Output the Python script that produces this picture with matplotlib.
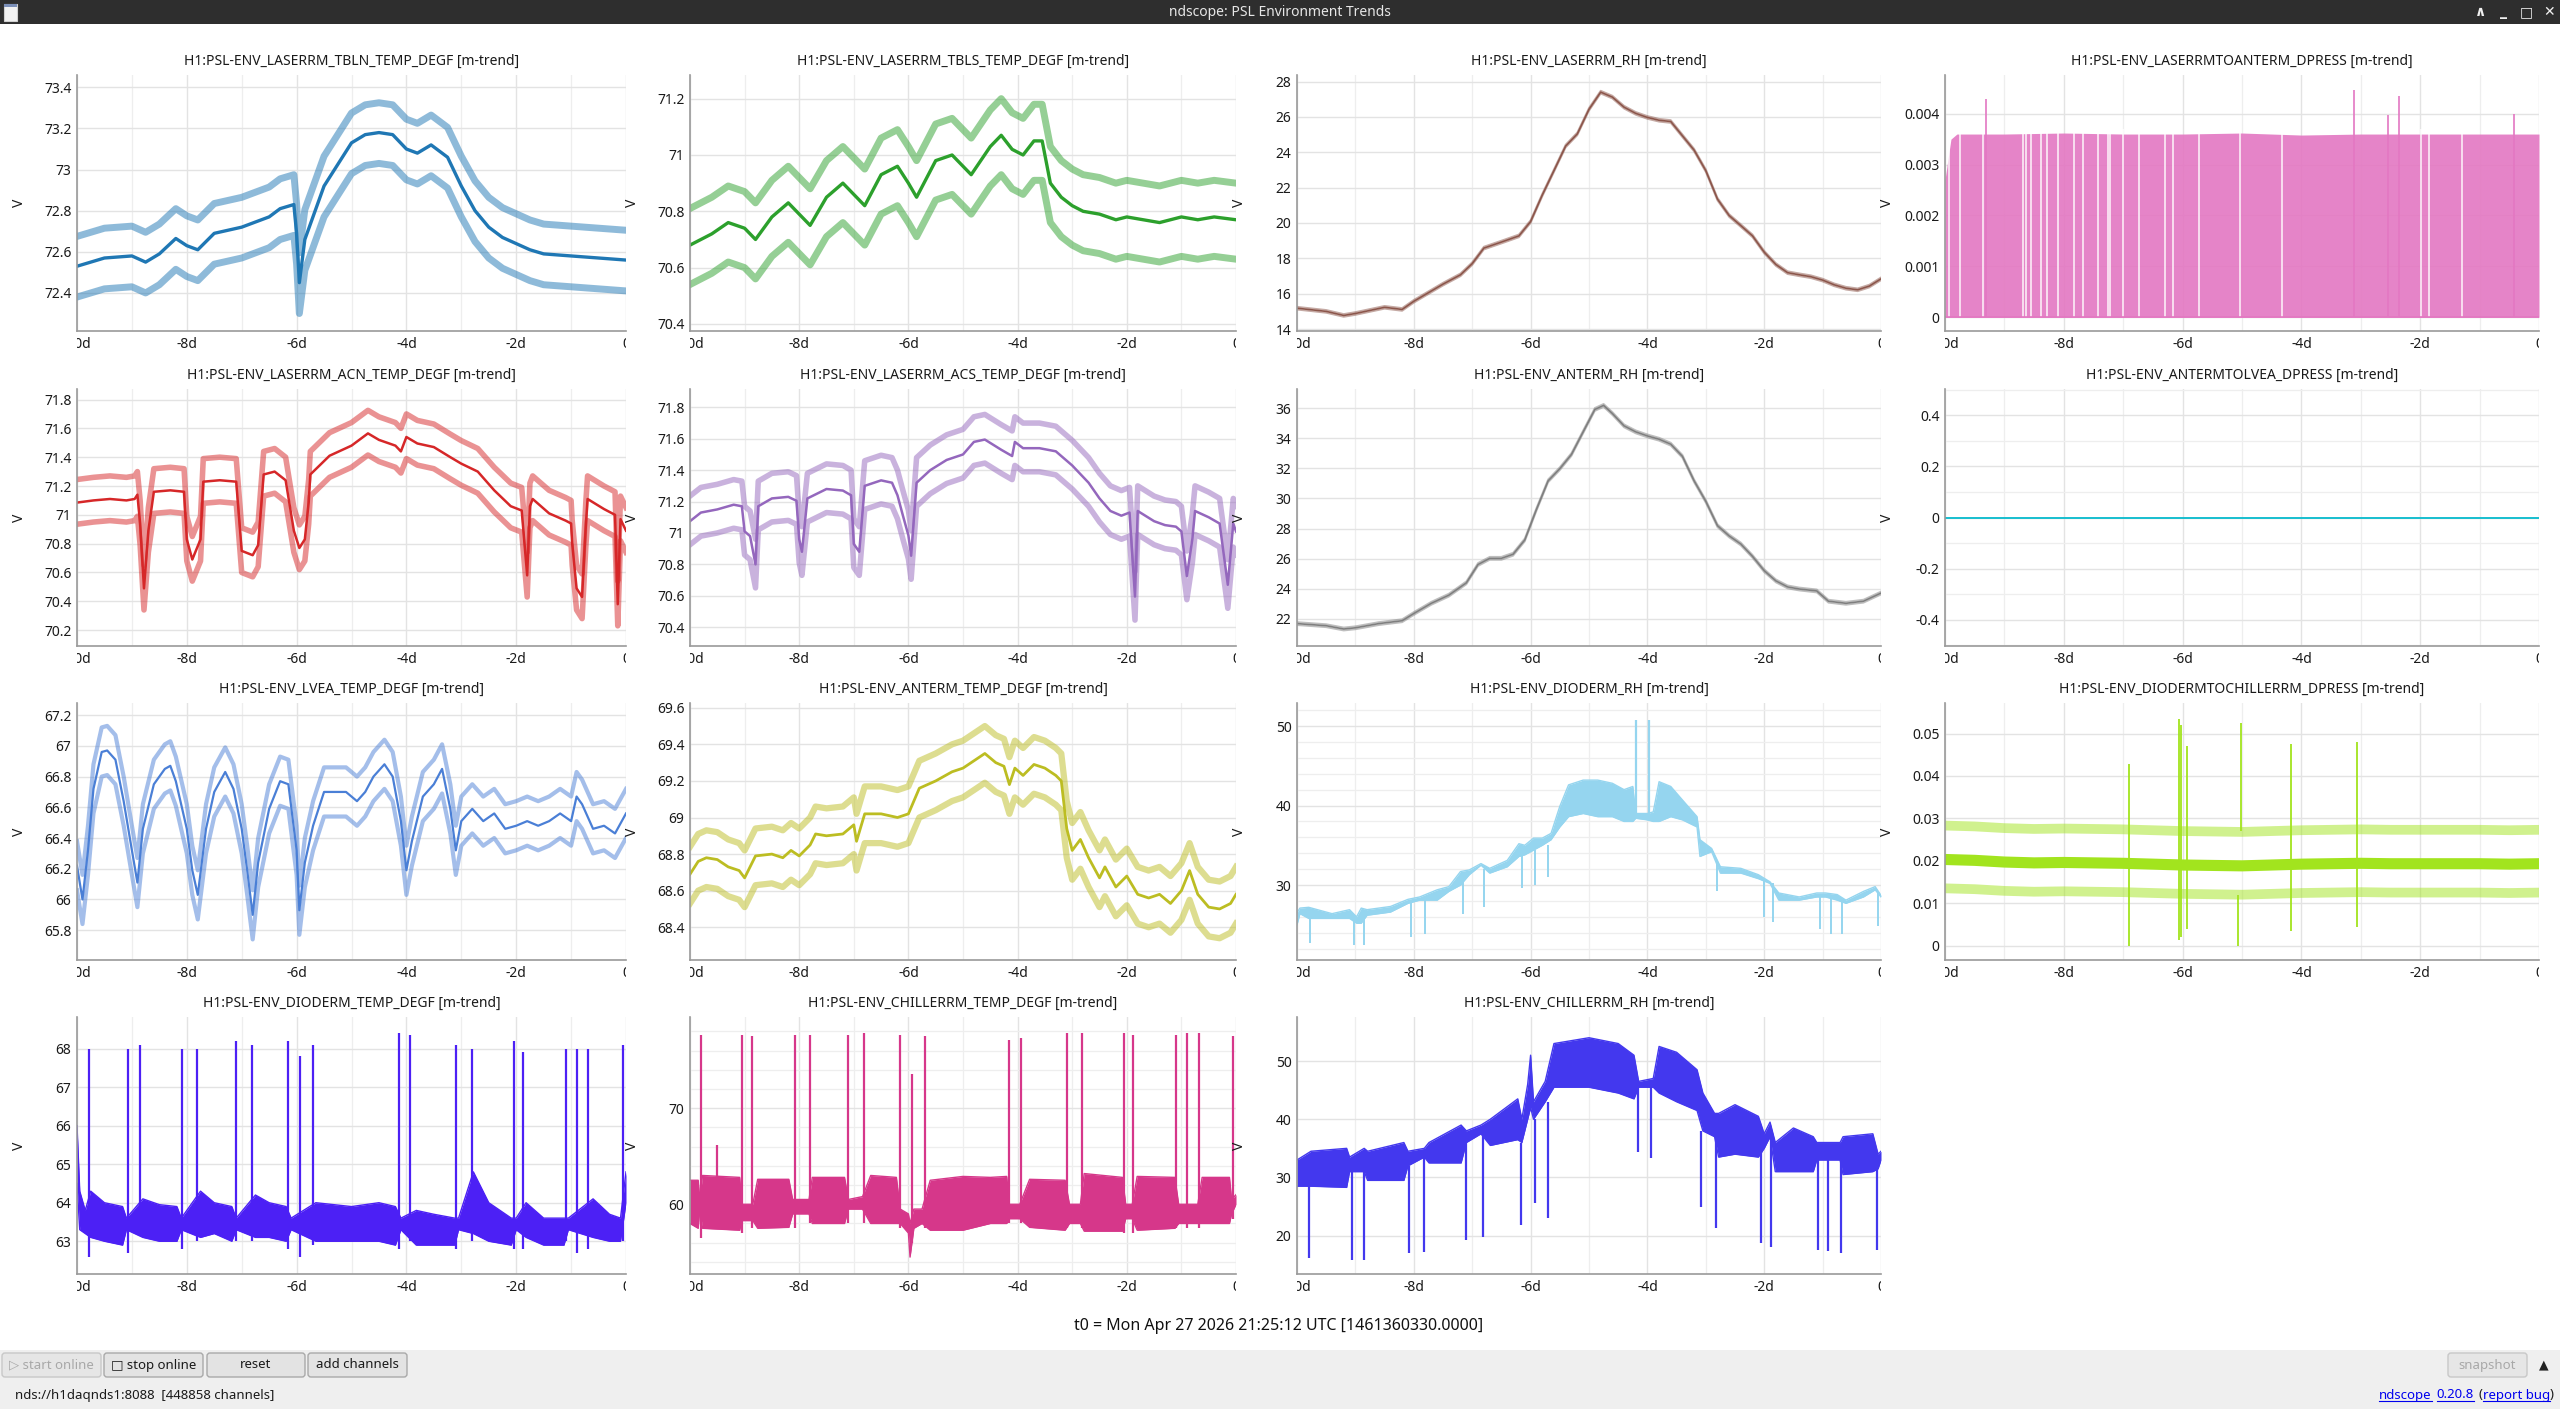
import numpy as np
import matplotlib.pyplot as plt
from matplotlib.patches import Rectangle, FancyBboxPatch
from matplotlib.lines import Line2D
from matplotlib.transforms import Bbox, TransformedBbox, IdentityTransform
from matplotlib.ticker import MultipleLocator, FuncFormatter

plt.rcParams['font.family'] = ['Noto Sans', 'DejaVu Sans']
plt.rcParams['axes.unicode_minus'] = False

W, H = 2560, 1409

# ---------------- data (days before t0) ----------------
x_ticks = [-10, -8, -6, -4, -2, 0]
x_labels = ['-10d', '-8d', '-6d', '-4d', '-2d', '0']

# LASERRM_TBLN_TEMP_DEGF
tbln_t = [-10, -9.5, -9, -8.75, -8.5, -8.2, -8, -7.8, -7.5, -7, -6.5, -6.3, -6.05, -6.0, -5.95,
          -5.85, -5.5, -5.0, -4.75, -4.5, -4.25, -4.0, -3.8, -3.55, -3.25, -3.0, -2.75, -2.5,
          -2.25, -2.0, -1.75, -1.5, -1.0, -0.5, 0]
tbln_mean = [72.53, 72.57, 72.58, 72.55, 72.59, 72.665, 72.63, 72.61, 72.69, 72.72, 72.77, 72.81,
             72.83, 72.69, 72.45, 72.66, 72.92, 73.13, 73.17, 73.18, 73.17, 73.10, 73.08, 73.12,
             73.06, 72.92, 72.80, 72.72, 72.67, 72.64, 72.61, 72.59, 72.58, 72.57, 72.56]
tbln_off = (-0.15, 0.145)

# LASERRM_TBLS_TEMP_DEGF
tbls_t = [-10, -9.6, -9.3, -9.0, -8.8, -8.5, -8.2, -8.0, -7.8, -7.5, -7.2, -7.0, -6.8, -6.5, -6.2,
          -6.0, -5.85, -5.5, -5.2, -5.0, -4.85, -4.5, -4.3, -4.1, -3.9, -3.7, -3.55, -3.4, -3.2,
          -3.0, -2.8, -2.5, -2.2, -2.0, -1.7, -1.4, -1.0, -0.7, -0.4, 0]
tbls_mean = [70.68, 70.72, 70.76, 70.74, 70.70, 70.78, 70.83, 70.79, 70.75, 70.85, 70.90, 70.86,
             70.82, 70.93, 70.96, 70.90, 70.85, 70.98, 71.00, 70.96, 70.93, 71.03, 71.07, 71.02,
             71.00, 71.05, 71.05, 70.90, 70.85, 70.82, 70.80, 70.79, 70.77, 70.78, 70.77, 70.76,
             70.78, 70.77, 70.78, 70.77]
tbls_off = (-0.14, 0.13)

# LASERRM_RH
lrh_t = [-10, -9.5, -9.2, -9.0, -8.5, -8.2, -8.0, -7.5, -7.2, -7.0, -6.8, -6.5, -6.2, -6.0, -5.8,
         -5.6, -5.4, -5.2, -5.0, -4.8, -4.6, -4.4, -4.2, -4.0, -3.8, -3.6, -3.4, -3.2, -3.0, -2.8,
         -2.6, -2.4, -2.2, -2.0, -1.8, -1.6, -1.4, -1.2, -1.0, -0.8, -0.6, -0.4, -0.2, 0]
lrh_mean = [15.18, 15.0, 14.77, 14.88, 15.23, 15.11, 15.57, 16.54, 17.07, 17.70, 18.58, 18.92,
            19.27, 20.08, 21.58, 22.96, 24.35, 25.04, 26.43, 27.40, 27.12, 26.55, 26.20, 25.97,
            25.81, 25.74, 24.93, 24.12, 22.96, 21.35, 20.42, 19.85, 19.27, 18.35, 17.65, 17.19,
            17.07, 16.96, 16.77, 16.50, 16.31, 16.22, 16.43, 16.84]
lrh_off = (-0.08, 0.08)

# LASERRMTOANTERM_DPRESS
dp1_t = [-10, -9.9, -9.8, -9, -8, -7, -6, -5, -4, -3, -2, -1, 0]
dp1_max = [0.0027, 0.0035, 0.0036, 0.0036, 0.00362, 0.0036, 0.0036, 0.00362, 0.00358, 0.0036,
           0.0036, 0.0036, 0.0036]
dp1_floor = 0.0
dp1_spike_t = [-9.31, -3.11, -2.54, -2.35, -0.42]
dp1_spike_v = [0.00429, 0.00446, 0.00397, 0.00435, 0.0040]
dp1_gap_t = [-9.93, -9.75, -9.36, -8.69, -8.64, -8.55, -8.38, -8.28, -8.09, -7.82, -7.67, -7.43,
             -7.26, -7.22, -7.01, -6.73, -6.29, -6.16, -5.72, -5.04, -4.32, -1.98, -1.85, -1.30]
dp1_gap_top = 0.0037

# LASERRM_ACN_TEMP_DEGF
acn_t = [-10, -9.7, -9.4, -9.1, -8.95, -8.9, -8.85, -8.78, -8.7, -8.6, -8.3, -8.05, -8.0, -7.9,
         -7.75, -7.7, -7.4, -7.1, -7.0, -6.8, -6.7, -6.6, -6.4, -6.2, -6.05, -5.95, -5.85, -5.78,
         -5.75, -5.4, -5.0, -4.7, -4.5, -4.2, -4.1, -4.0, -3.8, -3.5, -3.2, -3.0, -2.7, -2.4,
         -2.1, -1.9, -1.8, -1.75, -1.7, -1.4, -1.1, -1.0, -0.98, -0.9, -0.8, -0.73, -0.7, -0.4,
         -0.2, -0.15, -0.1, 0]
acn_mean = [71.085, 71.10, 71.11, 71.10, 71.11, 71.14, 70.94, 70.49, 70.89, 71.16, 71.17, 71.16,
            70.83, 70.69, 70.83, 71.23, 71.24, 71.23, 70.75, 70.72, 70.79, 71.28, 71.30, 71.24,
            70.89, 70.77, 70.83, 71.085, 71.28, 71.41, 71.48, 71.565, 71.52, 71.48, 71.44, 71.54,
            71.495, 71.47, 71.40, 71.355, 71.30, 71.17, 71.06, 71.03, 70.58, 71.06, 71.11, 71.01,
            70.96, 70.94, 70.80, 70.49, 70.43, 70.94, 71.11, 71.04, 71.0, 70.38, 70.97, 70.89]
acn_off = (-0.15, 0.16)

# LASERRM_ACS_TEMP_DEGF
acs_t = [-10, -9.8, -9.5, -9.2, -9.05, -9.0, -8.9, -8.8, -8.75, -8.5, -8.2, -8.05, -8.0, -7.95,
         -7.85, -7.5, -7.2, -7.05, -7.0, -6.9, -6.8, -6.5, -6.3, -6.2, -6.1, -6.0, -5.95, -5.85,
         -5.6, -5.3, -5.0, -4.8, -4.6, -4.3, -4.1, -4.05, -3.9, -3.6, -3.3, -3.0, -2.7, -2.5,
         -2.3, -2.1, -1.95, -1.85, -1.8, -1.5, -1.3, -1.1, -1.0, -0.9, -0.8, -0.75, -0.5, -0.3,
         -0.15, -0.05, 0]
acs_mean = [71.075, 71.13, 71.15, 71.18, 71.17, 71.01, 70.98, 70.80, 71.17, 71.22, 71.23, 71.205,
            70.96, 70.88, 71.22, 71.28, 71.27, 71.24, 70.93, 70.88, 71.30, 71.335, 71.32, 71.24,
            71.11, 70.985, 70.855, 71.32, 71.40, 71.465, 71.50, 71.58, 71.595, 71.53, 71.49,
            71.58, 71.54, 71.54, 71.52, 71.43, 71.32, 71.22, 71.14, 71.11, 71.13, 70.595, 71.14,
            71.075, 71.05, 71.04, 71.01, 70.725, 70.96, 71.14, 71.10, 71.06, 70.67, 71.06, 71.01]
acs_off = (-0.15, 0.16)

# ANTERM_RH
arh_t = [-10, -9.5, -9.2, -9.0, -8.6, -8.2, -8.0, -7.7, -7.4, -7.1, -6.9, -6.7, -6.5, -6.3, -6.1,
         -5.9, -5.7, -5.5, -5.3, -5.1, -4.9, -4.75, -4.6, -4.4, -4.2, -4.0, -3.8, -3.6, -3.4,
         -3.2, -3.0, -2.8, -2.6, -2.4, -2.2, -2.0, -1.8, -1.6, -1.4, -1.1, -0.9, -0.6, -0.3, 0]
arh_mean = [21.68, 21.54, 21.32, 21.40, 21.68, 21.87, 22.35, 23.03, 23.57, 24.39, 25.61, 26.02,
            26.02, 26.29, 27.24, 29.27, 31.17, 31.98, 32.93, 34.43, 35.92, 36.19, 35.65, 34.83,
            34.43, 34.16, 33.94, 33.61, 32.80, 31.17, 29.81, 28.19, 27.51, 26.97, 26.15, 25.20,
            24.52, 24.12, 23.98, 23.85, 23.17, 23.03, 23.17, 23.71]
arh_off = (-0.1, 0.1)

# ANTERMTOLVEA_DPRESS
alv_t = [-10, 0]
alv_v = [0.0, 0.0]

# LVEA_TEMP_DEGF
lvea_t = [-10, -9.9, -9.8, -9.7, -9.55, -9.45, -9.3, -9.15, -9.0, -8.9, -8.8, -8.6, -8.4, -8.3,
          -8.2, -8.0, -7.9, -7.8, -7.65, -7.5, -7.3, -7.15, -7.0, -6.9, -6.8, -6.7, -6.5, -6.3,
          -6.15, -6.0, -5.95, -5.85, -5.7, -5.5, -5.3, -5.1, -4.9, -4.75, -4.6, -4.4, -4.25,
          -4.1, -4.0, -3.9, -3.7, -3.5, -3.35, -3.2, -3.1, -3.0, -2.8, -2.6, -2.4, -2.2, -2.0,
          -1.8, -1.6, -1.4, -1.2, -1.0, -0.9, -0.8, -0.6, -0.4, -0.2, 0]
lvea_mean = [66.22, 66.0, 66.32, 66.72, 66.96, 66.97, 66.91, 66.64, 66.32, 66.11, 66.46, 66.75,
             66.85, 66.87, 66.77, 66.46, 66.19, 66.03, 66.46, 66.70, 66.83, 66.72, 66.46, 66.19,
             65.90, 66.24, 66.59, 66.77, 66.75, 66.32, 65.93, 66.24, 66.48, 66.70, 66.70, 66.70,
             66.64, 66.70, 66.80, 66.88, 66.80, 66.51, 66.19, 66.38, 66.67, 66.75, 66.85, 66.59,
             66.32, 66.51, 66.59, 66.51, 66.56, 66.46, 66.48, 66.51, 66.48, 66.51, 66.56, 66.51,
             66.67, 66.62, 66.46, 66.48, 66.43, 66.56]
lvea_off = (-0.16, 0.16)

# ANTERM_TEMP_DEGF
atmp_t = [-10, -9.85, -9.7, -9.5, -9.3, -9.1, -9.0, -8.9, -8.8, -8.5, -8.3, -8.15, -8.0, -7.8,
          -7.7, -7.5, -7.2, -7.0, -6.95, -6.8, -6.5, -6.2, -6.0, -5.9, -5.8, -5.5, -5.2, -5.0,
          -4.8, -4.6, -4.4, -4.25, -4.15, -4.05, -3.9, -3.7, -3.5, -3.3, -3.2, -3.1, -3.0, -2.85,
          -2.7, -2.5, -2.4, -2.2, -2.0, -1.8, -1.6, -1.4, -1.2, -1.0, -0.85, -0.7, -0.5, -0.3,
          -0.1, 0]
atmp_mean = [68.69, 68.76, 68.78, 68.77, 68.73, 68.71, 68.67, 68.73, 68.79, 68.80, 68.78, 68.82,
             68.79, 68.85, 68.91, 68.90, 68.91, 68.96, 68.87, 69.02, 69.02, 69.00, 69.02, 69.09,
             69.16, 69.20, 69.25, 69.27, 69.31, 69.35, 69.30, 69.28, 69.18, 69.27, 69.23, 69.29,
             69.27, 69.23, 69.20, 68.94, 68.82, 68.88, 68.78, 68.67, 68.73, 68.62, 68.68, 68.58,
             68.56, 68.58, 68.53, 68.60, 68.71, 68.58, 68.51, 68.50, 68.53, 68.58]
atmp_off = (-0.16, 0.15)

# DIODERM_RH (min / max band, plus short dips and spikes)
drh_t = [-10, -9.95, -9.8, -9.4, -9.1, -8.98, -8.9, -8.8, -8.4, -8.1, -7.9, -7.6, -7.4, -7.2,
         -7.05, -6.85, -6.7, -6.4, -6.2, -6.1, -5.95, -5.8, -5.65, -5.5, -5.35, -5.1, -4.85, -4.6,
         -4.4, -4.25, -4.2, -4.0, -3.9, -3.8, -3.6, -3.4, -3.15, -3.1, -2.9, -2.75, -2.4, -2.1,
         -1.9, -1.75, -1.4, -1.1, -0.95, -0.75, -0.6, -0.3, -0.1, 0]
drh_lo = [25.0, 26.4, 25.8, 25.8, 25.8, 25.2, 25.2, 26.2, 26.6, 27.7, 28.1, 28.1, 29.2, 30.0,
          31.3, 32.5, 31.5, 32.3, 33.6, 33.8, 34.4, 35.0, 35.7, 37.3, 38.6, 39.0, 38.6, 38.6,
          38.0, 38.0, 38.4, 38.2, 38.0, 38.0, 38.6, 38.2, 37.3, 33.6, 34.2, 31.5, 31.5, 30.8,
          30.2, 28.1, 28.1, 28.5, 28.5, 28.1, 27.7, 28.5, 29.4, 28.5]
drh_hi = [26.5, 27.1, 27.2, 26.4, 26.9, 26.0, 27.1, 26.9, 27.3, 28.2, 28.5, 29.4, 29.8, 31.7,
          31.9, 32.7, 32.1, 33.1, 35.2, 35.0, 35.9, 35.9, 36.5, 39.9, 42.6, 43.2, 43.2, 42.8,
          42.0, 42.4, 39.0, 39.0, 39.2, 43.0, 42.4, 40.7, 38.6, 35.7, 34.6, 32.3, 32.1, 31.3,
          30.4, 29.0, 28.5, 29.0, 29.0, 28.8, 28.1, 29.2, 29.8, 28.7]
drh_dip_t = [-9.77, -9.03, -8.85, -8.05, -7.8, -7.15, -6.8, -6.15, -5.93, -5.7, -2.8, -2.0,
             -1.85, -1.05, -0.85, -0.67, -0.05]
drh_dip_lo = [22.7, 22.5, 22.5, 23.5, 23.9, 26.4, 27.3, 29.6, 30.0, 31.0, 29.2, 26.0, 25.4, 24.5,
              23.9, 23.9, 24.8]
drh_dip_hi = [26.0, 26.0, 26.5, 27.7, 28.1, 30.5, 32.0, 33.6, 34.4, 35.0, 33.0, 30.8, 30.2, 28.5,
              28.5, 28.1, 29.0]
drh_spk_t = [-4.2, -3.98]
drh_spk_lo = [38.5, 38.5]
drh_spk_hi = [50.8, 50.8]

# DIODERMTOCHILLERRM_DPRESS
dpc_t = [-10, -9.5, -9.0, -8.5, -8.0, -7.5, -7.0, -6.5, -6.0, -5.5, -5.0, -4.5, -4.0, -3.5, -3.0,
         -2.5, -2.0, -1.5, -1.0, -0.5, 0]
dpc_mean = [0.0203, 0.0201, 0.0197, 0.0195, 0.0196, 0.0195, 0.0194, 0.0192, 0.0190, 0.0189,
            0.0188, 0.0190, 0.0192, 0.0193, 0.0194, 0.0193, 0.0193, 0.0193, 0.0193, 0.0192, 0.0193]
dpc_off = (-0.0068, 0.0080)
dpc_spk_t = [-6.91, -6.06, -6.02, -5.92, -5.06, -5.02, -4.17, -3.06]
dpc_spk_lo = [0.0, 0.0014, 0.002, 0.0038, 0.0, 0.027, 0.0034, 0.0043]
dpc_spk_hi = [0.0428, 0.0534, 0.052, 0.047, 0.012, 0.0524, 0.0476, 0.048]

# DIODERM_TEMP_DEGF
dtmp_t = [-10, -9.95, -9.85, -9.75, -9.5, -9.17, -9.1, -8.8, -8.5, -8.18, -8.1, -7.75, -7.5,
          -7.18, -7.1, -6.75, -6.5, -6.19, -6.1, -5.65, -5.0, -4.5, -4.2, -4.1, -3.82, -3.5,
          -3.12, -3.05, -2.78, -2.5, -2.09, -2.0, -1.82, -1.5, -1.13, -1.05, -0.6, -0.3, -0.1, 0]
dtmp_lo = [64.5, 63.3, 63.2, 63.1, 63.0, 62.9, 63.3, 63.1, 63.0, 63.0, 63.3, 63.1, 63.2, 63.0,
           63.3, 63.1, 63.1, 63.0, 63.3, 63.0, 63.0, 63.0, 62.9, 63.3, 62.9, 62.9, 62.9, 63.3,
           63.2, 63.0, 62.9, 63.3, 63.1, 62.9, 62.9, 63.3, 63.1, 63.0, 63.0, 64.0]
dtmp_hi = [66.0, 64.3, 63.8, 64.3, 64.0, 63.9, 63.6, 64.1, 63.95, 63.9, 63.6, 64.3, 64.0, 63.9,
           63.6, 64.2, 64.0, 63.9, 63.6, 64.0, 63.9, 64.0, 63.9, 63.6, 63.8, 63.7, 63.6, 63.6,
           64.8, 64.0, 63.6, 63.6, 64.0, 63.6, 63.6, 63.6, 64.1, 63.7, 63.6, 64.8]
dtmp_spk_t = [-9.79, -9.07, -8.86, -8.09, -7.82, -7.11, -6.81, -6.15, -5.93, -5.70, -4.14, -3.93,
              -3.09, -2.80, -2.04, -1.87, -1.09, -0.90, -0.69, -0.06]
dtmp_spk_lo = [62.6, 62.7, 63.2, 62.8, 63.0, 63.0, 63.0, 62.8, 62.6, 62.9, 62.8, 63.0, 62.8, 63.0,
               62.8, 62.8, 63.0, 62.7, 62.8, 63.0]
dtmp_spk_hi = [68.0, 68.0, 68.1, 68.0, 68.0, 68.2, 68.1, 68.2, 67.8, 68.1, 68.4, 68.35, 68.1, 68.0,
               68.2, 67.9, 68.0, 68.0, 68.0, 68.1]

# CHILLERRM_TEMP_DEGF
ctmp_t = [-10, -9.85, -9.82, -9.77, -9.09, -9.05, -8.85, -8.76, -8.19, -8.12, -7.82, -7.76, -7.17,
          -7.1, -6.84, -6.69, -6.22, -6.15, -6.0, -5.97, -5.9, -5.75, -5.6, -5.0, -4.5, -4.2,
          -4.15, -3.96, -3.78, -3.13, -3.05, -2.85, -2.78, -2.08, -2.02, -1.9, -1.81, -1.12,
          -1.05, -0.7, -0.62, -0.12, -0.08, 0]
ctmp_lo = [58.0, 57.5, 59.5, 57.5, 57.3, 58.3, 58.3, 57.5, 57.6, 59.0, 59.0, 58.0, 58.0, 59.5,
           59.5, 58.0, 58.0, 58.0, 57.0, 54.5, 57.5, 58.0, 57.3, 57.3, 58.0, 58.0, 58.5, 58.5,
           57.6, 57.3, 58.0, 58.0, 57.2, 57.2, 58.5, 58.5, 57.3, 57.5, 58.0, 58.0, 58.0, 58.0,
           59.0, 60.0]
ctmp_hi = [62.5, 62.5, 60.5, 63.0, 62.8, 60.0, 60.0, 62.6, 62.6, 60.5, 60.5, 62.8, 62.8, 60.5,
           60.8, 63.0, 62.8, 59.5, 59.0, 58.0, 59.5, 59.5, 62.5, 62.9, 62.8, 62.9, 60.0, 60.0,
           62.6, 62.5, 60.0, 60.0, 63.2, 62.8, 60.0, 60.0, 62.9, 62.8, 60.0, 60.0, 62.8, 62.8,
           60.5, 61.0]
ctmp_spk_t = [-9.80, -9.50, -9.05, -8.87, -8.08, -7.81, -7.11, -6.81, -6.16, -5.94, -5.70, -4.15,
              -3.94, -3.09, -2.82, -2.05, -1.88, -1.09, -0.89, -0.67, -0.05]
ctmp_spk_lo = [56.5, 60.0, 57.0, 57.5, 57.5, 58.0, 58.0, 58.0, 57.5, 56.0, 57.5, 58.0, 58.0, 57.5,
               57.5, 57.0, 57.0, 57.5, 57.5, 57.5, 58.5]
ctmp_spk_hi = [77.6, 66.2, 77.6, 77.5, 77.6, 77.6, 77.6, 77.8, 77.6, 73.6, 77.5, 77.1, 77.3, 77.8,
               77.8, 77.8, 77.6, 77.6, 77.8, 77.8, 77.5]

# CHILLERRM_RH
crh_t = [-10, -9.76, -9.15, -9.1, -8.85, -8.79, -8.17, -8.1, -7.82, -7.74, -7.19, -7.1, -6.85,
         -6.69, -6.22, -6.15, -6.05, -6.0, -5.95, -5.75, -5.6, -5.0, -4.5, -4.23, -4.15, -3.9,
         -3.8, -3.5, -3.15, -3.05, -2.85, -2.78, -2.5, -2.1, -2.0, -1.9, -1.81, -1.5, -1.16,
         -1.1, -0.7, -0.65, -0.14, -0.05, 0]
crh_lo = [28.5, 28.5, 28.3, 31.0, 31.0, 29.5, 29.5, 32.0, 33.5, 32.5, 32.5, 36.0, 37.5, 35.5, 36.5,
          36.0, 40.0, 42.0, 40.0, 43.0, 45.5, 45.5, 44.5, 43.5, 45.5, 45.5, 44.5, 43.0, 41.5,
          38.0, 37.0, 33.5, 34.0, 33.5, 35.0, 37.0, 31.0, 31.0, 31.0, 33.0, 33.0, 30.5, 31.0,
          31.5, 33.0]
crh_hi = [33.0, 34.5, 35.0, 33.5, 35.0, 34.5, 36.0, 34.5, 35.0, 36.0, 39.0, 38.0, 39.0, 40.0, 43.5,
          40.0, 46.0, 51.0, 43.0, 46.5, 53.0, 54.0, 53.0, 51.0, 46.5, 47.0, 52.5, 51.5, 48.5,
          44.5, 41.0, 41.0, 42.5, 40.5, 37.5, 39.5, 36.0, 38.5, 37.0, 36.0, 36.0, 37.0, 37.5,
          34.0, 34.5]
crh_dip_t = [-9.8, -9.05, -8.86, -8.08, -7.82, -7.11, -6.81, -6.16, -5.93, -5.70, -4.16, -3.93,
             -3.09, -2.82, -2.05, -1.88, -1.08, -0.90, -0.69, -0.07]
crh_dip_lo = [16.1, 15.8, 15.8, 17.0, 17.2, 19.3, 19.7, 21.8, 25.7, 23.1, 34.4, 33.3, 25.0, 21.3,
              18.7, 18.1, 17.5, 17.3, 17.0, 17.5]
crh_dip_hi = [30.0, 31.0, 31.0, 32.0, 33.5, 36.0, 37.5, 36.0, 40.0, 43.0, 45.5, 45.5, 38.0, 37.0,
              35.0, 37.0, 33.0, 33.0, 33.0, 31.5]

# ---------------- figure ----------------
fig = plt.figure(figsize=(W / 100, H / 100), dpi=100)
fig.patch.set_facecolor('white')

COLS = [(77, 626), (690, 1236), (1297, 1881), (1945, 2539)]
ROWS = [(75, 331), (389, 646), (703, 960), (1017, 1274)]
TXT = '#1a1a1a'
FS = 10


def make_ax(r, c, title, ylim, yticks, yminor=None):
    x0, x1 = COLS[c]
    y0, y1 = ROWS[r]
    ax = fig.add_axes([x0 / W, 1 - y1 / H, (x1 - x0) / W, (y1 - y0) / H])
    ax.set_xlim(-10, 0)
    ax.set_ylim(*ylim)
    ax.set_xticks(x_ticks, x_labels)
    ax.xaxis.set_minor_locator(MultipleLocator(1))
    ax.set_yticks(yticks)
    ax.yaxis.set_major_formatter(FuncFormatter(lambda v, p: '%g' % round(v, 6)))
    if yminor:
        ax.yaxis.set_minor_locator(MultipleLocator(yminor))
    ax.set_axisbelow(True)
    ax.grid(True, which='major', color='#e3e3e3', lw=1.0)
    ax.grid(True, which='minor', color='#eeeeee', lw=0.9)
    for s in ('top', 'right'):
        ax.spines[s].set_visible(False)
    for s in ('left', 'bottom'):
        ax.spines[s].set_color('#9a9a9a')
        ax.spines[s].set_linewidth(1.2)
    ax.tick_params(which='both', length=0, labelsize=FS, labelcolor=TXT)
    ax.tick_params(axis='x', pad=4)
    ax.tick_params(axis='y', pad=4)
    ax.set_ylabel('V', fontsize=FS, color=TXT)
    ax.yaxis.set_label_coords(-50 / (x1 - x0), 0.5)
    ax.text(0.5, 1 + 14 / (y1 - y0), title, transform=ax.transAxes, ha='center', va='center',
            fontsize=FS, color=TXT)
    # tick labels are cut at the plot edges, like in the viewer
    box = TransformedBbox(Bbox([[0, -1], [1, 1]]), ax.transAxes)
    for tk in ax.xaxis.get_major_ticks():
        tk.label1.set_clip_box(box)
        tk.label1.set_clip_on(True)
    return ax


def three_traces(ax, t, mean, off, color, band_lw, mean_lw, band_alpha=0.5):
    t = np.asarray(t)
    m = np.asarray(mean)
    ax.plot(t, m + off[1], color=color, lw=band_lw, alpha=band_alpha, solid_joinstyle='round')
    ax.plot(t, m + off[0], color=color, lw=band_lw, alpha=band_alpha, solid_joinstyle='round')
    ax.plot(t, m, color=color, lw=mean_lw, solid_joinstyle='round')


def band(ax, t, lo, hi, color, alpha=1.0):
    ax.fill_between(t, lo, hi, color=color, alpha=alpha, lw=0)
    ax.plot(t, lo, color=color, lw=1.0, alpha=alpha)
    ax.plot(t, hi, color=color, lw=1.0, alpha=alpha)


# row 1
ax = make_ax(0, 0, 'H1:PSL-ENV_LASERRM_TBLN_TEMP_DEGF [m-trend]', (72.215, 73.46),
             [72.4, 72.6, 72.8, 73.0, 73.2, 73.4])
three_traces(ax, tbln_t, tbln_mean, tbln_off, '#1f77b4', 5, 2.4)

ax = make_ax(0, 1, 'H1:PSL-ENV_LASERRM_TBLS_TEMP_DEGF [m-trend]', (70.375, 71.284),
             [70.4, 70.6, 70.8, 71.0, 71.2])
three_traces(ax, tbls_t, tbls_mean, tbls_off, '#2ca02c', 5, 2.4)

ax = make_ax(0, 2, 'H1:PSL-ENV_LASERRM_RH [m-trend]', (13.89, 28.37), list(range(14, 29, 2)))
three_traces(ax, lrh_t, lrh_mean, lrh_off, '#8c564b', 1.3, 1.2)

ax = make_ax(0, 3, 'H1:PSL-ENV_LASERRMTOANTERM_DPRESS [m-trend]', (-0.00027, 0.00476),
             [0, 0.001, 0.002, 0.003, 0.004])
ax.fill_between(dp1_t, dp1_floor, dp1_max, color='#e377c2', alpha=0.9, lw=0)
ax.vlines(dp1_gap_t, dp1_floor, dp1_gap_top, color='white', lw=1.2, alpha=0.85)
ax.vlines(dp1_spike_t, dp1_floor, dp1_spike_v, color='#e377c2', lw=1.2)
ax.plot(dp1_t, [dp1_floor] * len(dp1_t), color='#e377c2', lw=1.2)

# row 2
ax = make_ax(1, 0, 'H1:PSL-ENV_LASERRM_ACN_TEMP_DEGF [m-trend]', (70.09, 71.873),
             [70.2, 70.4, 70.6, 70.8, 71.0, 71.2, 71.4, 71.6, 71.8])
three_traces(ax, acn_t, acn_mean, acn_off, '#d62728', 4, 1.8)

ax = make_ax(1, 1, 'H1:PSL-ENV_LASERRM_ACS_TEMP_DEGF [m-trend]', (70.28, 71.917),
             [70.4, 70.6, 70.8, 71.0, 71.2, 71.4, 71.6, 71.8])
three_traces(ax, acs_t, acs_mean, acs_off, '#9467bd', 4, 1.8)

ax = make_ax(1, 2, 'H1:PSL-ENV_ANTERM_RH [m-trend]', (20.19, 37.28), list(range(22, 37, 2)))
three_traces(ax, arh_t, arh_mean, arh_off, '#7f7f7f', 1.3, 1.2)

ax = make_ax(1, 3, 'H1:PSL-ENV_ANTERMTOLVEA_DPRESS [m-trend]', (-0.502, 0.502),
             [-0.4, -0.2, 0, 0.2, 0.4], yminor=0.1)
ax.plot(alv_t, alv_v, color='#17becf', lw=1.4)

# row 3
ax = make_ax(2, 0, 'H1:PSL-ENV_LVEA_TEMP_DEGF [m-trend]', (65.606, 67.279),
             [65.8, 66.0, 66.2, 66.4, 66.6, 66.8, 67.0, 67.2])
three_traces(ax, lvea_t, lvea_mean, lvea_off, '#4a7fd6', 3, 1.6)

ax = make_ax(2, 1, 'H1:PSL-ENV_ANTERM_TEMP_DEGF [m-trend]', (68.221, 69.626),
             [68.4, 68.6, 68.8, 69.0, 69.2, 69.4, 69.6])
three_traces(ax, atmp_t, atmp_mean, atmp_off, '#bcbd22', 4.5, 2.0)

ax = make_ax(2, 2, 'H1:PSL-ENV_DIODERM_RH [m-trend]', (20.57, 52.9), [30, 40, 50], yminor=2)
band(ax, drh_t, drh_lo, drh_hi, '#95d5ef')
ax.vlines(drh_dip_t, drh_dip_lo, drh_dip_hi, color='#95d5ef', lw=1.4)
ax.vlines(drh_spk_t, drh_spk_lo, drh_spk_hi, color='#95d5ef', lw=1.6)

ax = make_ax(2, 3, 'H1:PSL-ENV_DIODERMTOCHILLERRM_DPRESS [m-trend]', (-0.0034, 0.0572),
             [0, 0.01, 0.02, 0.03, 0.04, 0.05])
three_traces(ax, dpc_t, dpc_mean, dpc_off, '#a2e41e', 7, 8, band_alpha=0.5)
ax.vlines(dpc_spk_t, dpc_spk_lo, dpc_spk_hi, color='#a2e41e', lw=1.3)

# row 4
ax = make_ax(3, 0, 'H1:PSL-ENV_DIODERM_TEMP_DEGF [m-trend]', (62.15, 68.82),
             [63, 64, 65, 66, 67, 68])
band(ax, dtmp_t, dtmp_lo, dtmp_hi, '#4c20f5')
ax.vlines(dtmp_spk_t, dtmp_spk_lo, dtmp_spk_hi, color='#4c20f5', lw=1.6)

ax = make_ax(3, 1, 'H1:PSL-ENV_CHILLERRM_TEMP_DEGF [m-trend]', (52.74, 79.5), [60, 70],
             yminor=2)
band(ax, ctmp_t, ctmp_lo, ctmp_hi, '#d6378a')
ax.vlines(ctmp_spk_t, ctmp_spk_lo, ctmp_spk_hi, color='#d6378a', lw=1.6)

ax = make_ax(3, 2, 'H1:PSL-ENV_CHILLERRM_RH [m-trend]', (13.42, 57.56), [20, 30, 40, 50])
band(ax, crh_t, crh_lo, crh_hi, '#4338ee')
ax.vlines(crh_dip_t, crh_dip_lo, crh_dip_hi, color='#4338ee', lw=1.6)

# ---------------- window chrome ----------------
PIX = IdentityTransform()


def px_rect(x0, y0, x1, y1, **kw):
    fig.add_artist(Rectangle((x0, H - y1), x1 - x0, y1 - y0, transform=PIX, **kw))


def px_text(x, y, s, **kw):
    return fig.text(x, H - y, s, transform=PIX, **kw)


def button(x0, x1, label, enabled=True):
    y0, y1 = 1353, 1377
    fig.add_artist(FancyBboxPatch((x0, H - y1), x1 - x0, y1 - y0,
                                  boxstyle='round,pad=0,rounding_size=3', transform=PIX,
                                  facecolor='#e3e3e3' if enabled else '#e6e6e6',
                                  edgecolor='#a9a9a9' if enabled else '#c8c8c8', lw=1))
    px_text((x0 + x1) / 2, (y0 + y1) / 2, label, ha='center', va='center', fontsize=9.5,
            color=TXT if enabled else '#a8a8a8')


# title bar
px_rect(0, 0, W, 24, color='#2e2e2e', lw=0)
px_text(W / 2, 12, 'ndscope: PSL Environment Trends', ha='center', va='center', fontsize=10,
        color='#e6e6e6')
px_rect(4, 4, 17, 21, facecolor='#f2f2f2', edgecolor='#cfcfcf', lw=0.8)
px_rect(4, 4, 17, 7, facecolor='#7b8fb8', lw=0)
for xc, glyph in [(2481, '\u2227'), (2503, '_'), (2526, '\u25a1'), (2549, '\u2715')]:
    px_text(xc, 12, glyph, ha='center', va='center', fontsize=10, color='#f0f0f0',
            fontweight='bold', family=['DejaVu Sans'])

# t0 line
px_text(1279, 1326, 't0 = Mon Apr 27 2026 21:25:12 UTC [1461360330.0000]', ha='center',
        va='center', fontsize=11.5, color='#111111')

# bottom panel
px_rect(0, 1350, W, H, color='#efefef', lw=0)
button(2, 101, '\u25b7 start online', enabled=False)
button(104, 203, '\u25a1 stop online')
button(207, 305, 'reset')
button(308, 407, 'add channels')
button(2448, 2527, 'snapshot', enabled=False)
px_text(2544, 1365, '\u25b2', ha='center', va='center', fontsize=9, color='#222222',
        family=['DejaVu Sans'])
px_text(15, 1395, 'nds://h1daqnds1:8088  [448858 channels]', ha='left', va='center',
        fontsize=9.5, color=TXT)

# footer links, laid out right to left
renderer = fig.canvas.get_renderer()
x = 2554
for piece, link in [(')', False), ('report bug', True), ('(', False), (' ', False),
                    ('0.20.8', True), (' ', False), ('ndscope', True)]:
    if piece == ' ':
        x -= 5
        continue
    t = px_text(x, 1395, piece, ha='right', va='center', fontsize=9.5,
                color='#0000ee' if link else TXT)
    bb = t.get_window_extent(renderer)
    if link:
        fig.add_artist(Line2D([bb.x0, bb.x1], [bb.y0 + 1, bb.y0 + 1], color='#0000ee', lw=0.8,
                              transform=PIX))
    x -= bb.width

fig.savefig('out.png', dpi=100, facecolor='white')
